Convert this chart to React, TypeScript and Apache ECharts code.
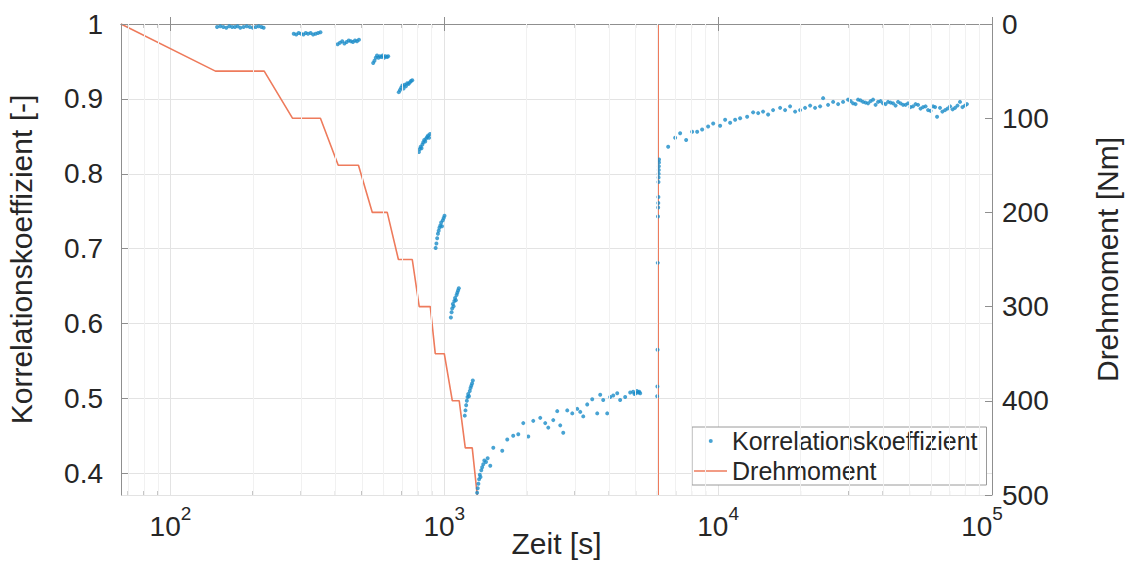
import { useEffect, useRef } from 'react';
import * as echarts from 'echarts';

const FONT = '"Liberation Sans", Arial, Helvetica, sans-serif';
const TEXT = '#262626';
const AXIS = '#8f8f8f';
const GRID = '#e3e3e3';
const MINOR_GRID = '#f1f1f1';
const BLUE = '#1a8cc8';
const ORANGE = '#ee7b5c';

// Zeit [s] of each Korrelationskoeffizient point
const corrTime = [
  // hold 50 Nm
  148, 152, 156, 160, 164, 168, 172, 176, 180, 185, 190, 195, 200, 205, 210, 215, 219,
  // hold 100 Nm
  282, 288, 294, 300, 306, 312, 318, 325, 332, 339, 346, 353,
  // hold 150 Nm
  408, 416, 424, 432, 440, 448, 456, 464, 472, 480, 488,
  // hold 200 Nm
  550, 556, 562, 568, 575, 582, 589, 596, 603, 610, 618, 624,
  // hold 250 Nm
  682, 689, 696, 703, 710, 717, 724, 732, 740, 748, 756, 764,
  // hold 300 Nm
  808, 814, 820, 826, 832, 838, 845, 852, 859, 866, 873, 880, 887,
  // hold 350 Nm
  930, 936, 942, 948, 954, 960, 967, 974, 981, 988, 995, 1002,
  // hold 400 Nm
  1057, 1063, 1069, 1075, 1081, 1088, 1095, 1102, 1109, 1116, 1123, 1130,
  // hold 450 Nm
  1188, 1195, 1202, 1209, 1216, 1223, 1231, 1239, 1247, 1255, 1263, 1271,
  // hold 500 Nm
  1318, 1325, 1332, 1340, 1348, 1356, 1365, 1375, 1388, 1400, 1420, 1440,
  1472, 1510, 1628, 1698, 1785, 1863, 1943, 2026, 2113, 2241, 2337, 2397, 2500, 2585,
  2651, 2719, 2812, 2933, 3059, 3137, 3217, 3326, 3469, 3618, 3710, 3805, 3935, 4035,
  4139, 4280, 4387, 4577, 4773, 4895, 4950, 5000, 5050, 5105, 5150, 5193,
  // unloading
  5990, 6000, 6010, 6020, 6030, 6040, 6045, 6050, 6055, 6060, 6065, 6070, 6075, 6080, 6085,
  // recovery
  6569, 6967, 7265, 7641, 8036, 8382, 8742, 9193, 9590, 10170, 10605, 11060, 11535,
  12030, 12760, 13420, 14000, 14590, 15220, 15870, 16840, 17560, 18310, 19100, 19920,
  20770, 21670, 22590, 23570, 24170, 25200, 26290, 27420, 28590, 29820, 31100, 32430,
  33820, 35270, 36790, 38370, 40010, 41730, 43520, 45390, 47340, 49360, 51480, 53700,
  56000, 58410, 60920, 63000, 64600, 67400, 70300, 73300, 76400, 79700,
  30460, 31760, 33120, 34540, 36020, 37570, 39180, 40860, 42620, 44450, 46360, 48340,
  50410, 52580, 54840, 57190, 59650, 62000, 65900, 68800, 71800, 74800, 78000, 81000,
];

// Korrelationskoeffizient [-]
const corrValue = [
  0.996, 0.997, 0.996, 0.995, 0.997, 0.996, 0.996, 0.997, 0.995, 0.996, 0.997, 0.996, 0.995, 0.996, 0.997, 0.996, 0.995,
  0.987, 0.986, 0.988, 0.987, 0.986, 0.988, 0.987, 0.988, 0.986, 0.987, 0.988, 0.989,
  0.973, 0.975, 0.977, 0.974, 0.976, 0.978, 0.977, 0.976, 0.978, 0.977, 0.979,
  0.948, 0.951, 0.955, 0.958, 0.955, 0.957, 0.956, 0.958, 0.955, 0.957, 0.956, 0.957,
  0.909, 0.912, 0.915, 0.918, 0.914, 0.919, 0.917, 0.921, 0.920, 0.922, 0.924, 0.925,
  0.829, 0.833, 0.836, 0.834, 0.839, 0.842, 0.845, 0.843, 0.847, 0.849, 0.851, 0.848, 0.853,
  0.701, 0.707, 0.714, 0.720, 0.724, 0.728, 0.731, 0.735, 0.730, 0.738, 0.741, 0.744,
  0.608, 0.615, 0.620, 0.626, 0.623, 0.630, 0.634, 0.631, 0.638, 0.641, 0.644, 0.647,
  0.477, 0.484, 0.491, 0.497, 0.502, 0.506, 0.503, 0.510, 0.514, 0.517, 0.520, 0.524,
  0.374, 0.380, 0.386, 0.392, 0.398, 0.395, 0.404, 0.408, 0.412, 0.417, 0.415, 0.420,
  0.410, 0.434, 0.430, 0.445, 0.450, 0.452, 0.467, 0.449, 0.470, 0.474, 0.467, 0.461, 0.471, 0.483,
  0.464, 0.454, 0.484, 0.480, 0.486, 0.482, 0.476, 0.492, 0.499, 0.480, 0.505, 0.498, 0.480, 0.502,
  0.504, 0.507, 0.498, 0.502, 0.508, 0.509, 0.506, 0.507, 0.510, 0.508, 0.509, 0.507,
  0.503, 0.516, 0.565, 0.681, 0.743, 0.755, 0.761, 0.769, 0.789, 0.795, 0.800, 0.805, 0.810, 0.815, 0.819,
  0.836, 0.848, 0.854, 0.845, 0.856, 0.856, 0.859, 0.863, 0.867, 0.864, 0.872, 0.868, 0.872,
  0.874, 0.876, 0.882, 0.881, 0.883, 0.879, 0.885, 0.888, 0.885, 0.890, 0.883, 0.885,
  0.888, 0.891, 0.888, 0.890, 0.901, 0.892, 0.896, 0.893, 0.896, 0.899, 0.894, 0.899,
  0.896, 0.894, 0.899, 0.896, 0.894, 0.896, 0.894, 0.896, 0.892, 0.894, 0.890, 0.892,
  0.889, 0.885, 0.890, 0.876, 0.888, 0.885, 0.890, 0.888, 0.896, 0.891,
  0.897, 0.893, 0.898, 0.895, 0.897, 0.892, 0.897, 0.893, 0.895, 0.891, 0.894, 0.892,
  0.889, 0.893, 0.887, 0.890, 0.884, 0.889, 0.883, 0.887, 0.886, 0.891, 0.889, 0.893,
];

// Drehmoment [Nm] step profile; the 500 Nm hold lies on the lower frame and is hidden there ('-')
const torqueTime = [66, 146, 220, 279, 353, 410, 486, 546, 619, 680, 764, 810, 889, 927, 1000, 1070, 1134, 1193, 1265, 1319, 3000, 6040, 6040];
const torqueValue: (number | string)[] = [0, 50, 50, 100, 100, 150, 150, 200, 200, 250, 250, 300, 300, 350, 350, 400, 400, 450, 450, 500, '-', 500, 0];

// log-axis minor positions
const minorTicks = [
  70, 80, 90,
  200, 300, 400, 500, 600, 700, 800, 900,
  2000, 3000, 4000, 5000, 6000, 7000, 8000, 9000,
  20000, 30000, 40000, 50000, 60000, 70000, 80000, 90000,
];

const xMin = 66;
const xMax = 100000;
const yLeftMin = 0.371;
const yLeftMax = 1;
const yRightMin = 0;
const yRightMax = 500;
const yRightStep = 100;

const DOT_ICON = 'path://M0,0M33,14M14.75,7a2,2 0 1,0 4,0a2,2 0 1,0 -4,0z';
const LINE_ICON = 'path://M0,0M33,14M0,6.25h33v1.5h-33z';

function powLabel(v: number): string {
  const l = Math.log10(v);
  const e = Math.round(l);
  if (Math.abs(l - e) > 1e-6) return '';
  // the last decade label sits slightly left of the frame corner, as in the original
  return v >= xMax ? `{b|10}{eLast|${e}}` : `{b|10}{e|${e}}`;
}

export default function App() {
  const ref = useRef<HTMLDivElement>(null);
  useEffect(() => {
    if (!ref.current) return;
    const chart = echarts.init(ref.current, undefined, { renderer: 'svg' });
    const option: any = {
      animation: false,
      backgroundColor: '#ffffff',
      textStyle: { fontFamily: FONT },
      grid: { left: 121, right: 134, top: 24, bottom: 68, containLabel: false, outerBoundsMode: 'none' },
      legend: {
        orient: 'vertical',
        left: 692,
        top: 427,
        itemWidth: 33,
        itemHeight: 14,
        itemGap: 2,
        padding: [0, 9, 0, 2],
        borderColor: '#9a9a9a',
        borderWidth: 1,
        backgroundColor: '#ffffff',
        selectedMode: false,
        textStyle: { fontSize: 25, fontFamily: FONT, color: TEXT, lineHeight: 28 },
        data: [
          { name: 'Korrelationskoeffizient', icon: DOT_ICON },
          { name: 'Drehmoment', icon: LINE_ICON },
        ],
      },
      xAxis: [
        {
          type: 'log',
          logBase: 10,
          min: xMin,
          max: xMax,
          position: 'bottom',
          z: 3,
          name: 'Zeit [s]',
          nameLocation: 'middle',
          nameGap: 33,
          nameMoveOverlap: false,
          nameTextStyle: { fontSize: 30, fontFamily: FONT, color: TEXT },
          axisLine: { show: true, lineStyle: { color: AXIS, width: 1 } },
          axisTick: { show: true, inside: true, length: 7, lineStyle: { color: AXIS } },
          axisLabel: {
            margin: 9,
            showMinLabel: false,
            formatter: powLabel,
            rich: {
              b: { fontSize: 28, fontFamily: FONT, color: TEXT, padding: [8, 0, 0, 0], verticalAlign: 'bottom' },
              e: { fontSize: 19, fontFamily: FONT, color: TEXT, verticalAlign: 'top' },
              eLast: { fontSize: 19, fontFamily: FONT, color: TEXT, verticalAlign: 'top', padding: [0, 20, 0, 0] },
            },
          },
          splitLine: { show: false },
        },
        {
          type: 'log',
          logBase: 10,
          min: xMin,
          max: xMax,
          position: 'top',
          axisLine: { show: true, lineStyle: { color: AXIS, width: 1 } },
          axisTick: { show: true, inside: true, length: 7, lineStyle: { color: AXIS } },
          axisLabel: { show: false },
          splitLine: { show: true, lineStyle: { color: GRID, width: 1 } },
        },
      ],
      yAxis: [
        {
          type: 'value',
          min: yLeftMin,
          max: yLeftMax,
          position: 'left',
          name: 'Korrelationskoeffizient [-]',
          nameLocation: 'middle',
          nameRotate: 90,
          nameGap: 85,
          nameMoveOverlap: false,
          nameTextStyle: { fontSize: 30, fontFamily: FONT, color: TEXT },
          axisLine: { show: true, lineStyle: { color: AXIS, width: 1 } },
          axisTick: { show: true, inside: true, length: 7, lineStyle: { color: AXIS } },
          axisLabel: { showMinLabel: false, margin: 18, fontSize: 28, fontFamily: FONT, color: TEXT },
          splitLine: { show: true, lineStyle: { color: GRID, width: 1 } },
        },
        {
          type: 'value',
          min: yRightMin,
          max: yRightMax,
          interval: yRightStep,
          inverse: true,
          position: 'right',
          name: 'Drehmoment [Nm]',
          nameLocation: 'middle',
          nameRotate: 90,
          nameGap: 100,
          nameMoveOverlap: false,
          nameTextStyle: { fontSize: 30, fontFamily: FONT, color: TEXT },
          axisLine: { show: true, lineStyle: { color: AXIS, width: 1 } },
          axisTick: { show: true, inside: true, length: 7, lineStyle: { color: AXIS } },
          axisLabel: { margin: 10, fontSize: 28, fontFamily: FONT, color: TEXT },
          splitLine: { show: false },
        },
      ],
      series: [
        {
          name: 'minorGrid',
          type: 'line',
          data: [],
          z: 1,
          silent: true,
          markLine: {
            silent: true,
            symbol: ['none', 'none'],
            label: { show: false },
            lineStyle: { color: MINOR_GRID, width: 1, type: 'solid' },
            data: minorTicks.map((v) => ({ xAxis: v })),
          },
        },
        {
          name: 'Drehmoment',
          type: 'line',
          xAxisIndex: 0,
          yAxisIndex: 1,
          data: torqueTime.map((t, i) => [t, torqueValue[i]]),
          symbol: 'none',
          showSymbol: false,
          connectNulls: false,
          lineStyle: { color: ORANGE, width: 1.6 },
          itemStyle: { color: ORANGE },
          z: 2,
        },
        {
          name: 'Korrelationskoeffizient',
          type: 'scatter',
          xAxisIndex: 0,
          yAxisIndex: 0,
          data: corrTime.map((t, i) => [t, corrValue[i]]),
          symbol: 'circle',
          symbolSize: 4,
          itemStyle: { color: BLUE },
          z: 3,
        },
        {
          name: 'minorTicksBottom',
          type: 'scatter',
          xAxisIndex: 0,
          yAxisIndex: 0,
          data: minorTicks.map((v) => [v, yLeftMin]),
          symbol: 'rect',
          symbolSize: [1, 4],
          symbolOffset: [0, -2],
          itemStyle: { color: AXIS },
          clip: false,
          silent: true,
          z: 4,
        },
        {
          name: 'minorTicksTop',
          type: 'scatter',
          xAxisIndex: 0,
          yAxisIndex: 0,
          data: minorTicks.map((v) => [v, yLeftMax]),
          symbol: 'rect',
          symbolSize: [1, 4],
          symbolOffset: [0, 2],
          itemStyle: { color: AXIS },
          clip: false,
          silent: true,
          z: 4,
        },
      ],
    };
    chart.setOption(option);
    return () => chart.dispose();
  }, []);
  return (
    <div
      ref={ref}
      style={{ position: 'fixed', left: 0, top: 0, width: 1126, height: 563, background: '#fff' }}
    />
  );
}
